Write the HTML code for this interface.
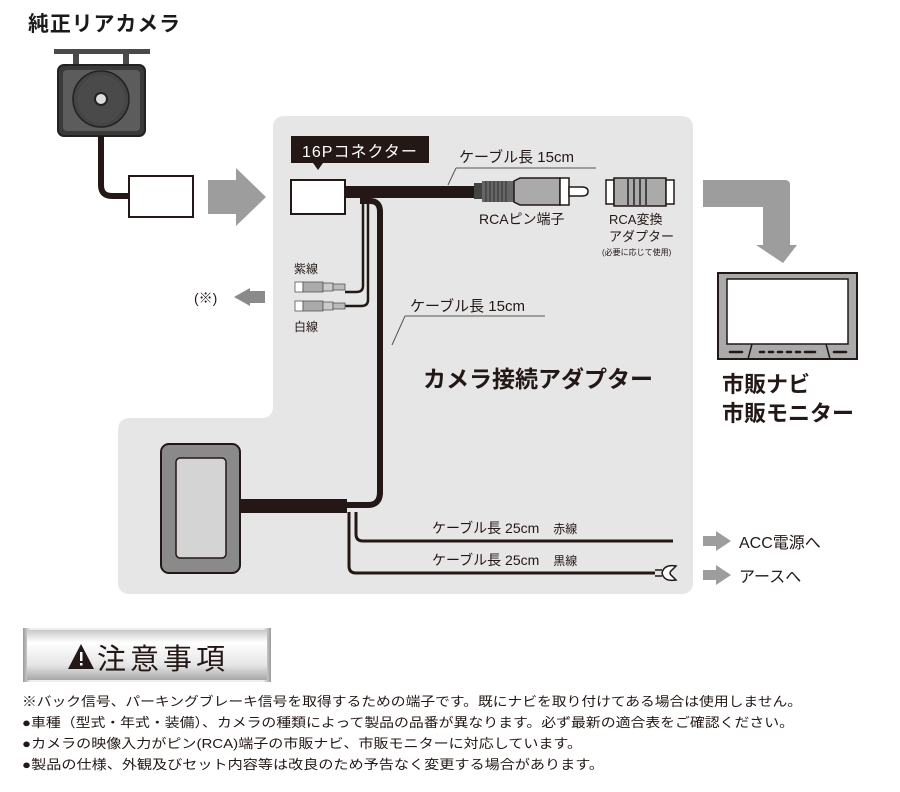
<!DOCTYPE html>
<html><head><meta charset="utf-8"><style>
html,body{margin:0;padding:0;background:#fff;}
svg{display:block;font-family:"Liberation Sans","Noto Sans CJK JP",sans-serif;}
</style></head><body>
<svg width="900" height="792" viewBox="0 0 900 792" xmlns="http://www.w3.org/2000/svg">
<defs>
<linearGradient id="sg" x1="0" y1="0" x2="0" y2="1">
<stop offset="0" stop-color="#c8c8c8"/><stop offset="0.25" stop-color="#ffffff"/><stop offset="0.7" stop-color="#e6e6e6"/><stop offset="1" stop-color="#a8a8a8"/>
</linearGradient>
<linearGradient id="sx" x1="0" y1="0" x2="1" y2="0">
<stop offset="0" stop-color="#999"/><stop offset="0.03" stop-color="#eee"/><stop offset="0.97" stop-color="#eee"/><stop offset="1" stop-color="#999"/>
</linearGradient>
</defs>
<path d="M285,116 H681 Q693,116 693,128 V582 Q693,594 681,594 H130 Q118,594 118,582 V430 Q118,418 130,418 H261 Q273,418 273,406 V128 Q273,116 285,116 Z" fill="#e6e6e6"/>

<text x="28" y="31" font-size="21" font-weight="bold" fill="#1a1a1a" textLength="152">純正リアカメラ</text>
<rect x="54" y="49" width="96" height="5" fill="#4a4a4a"/>
<rect x="73" y="54" width="6" height="12" fill="#4a4a4a"/>
<rect x="123" y="54" width="6" height="12" fill="#4a4a4a"/>
<rect x="58" y="65" width="87" height="71" rx="6" fill="#3a3a3a" stroke="#222" stroke-width="2"/>
<rect x="63" y="70" width="77" height="61" rx="4" fill="#5c5c5c"/>
<circle cx="101" cy="99" r="28" fill="#444" stroke="#222" stroke-width="1.5"/>
<circle cx="101" cy="99" r="24" fill="#4a4a4a"/>
<circle cx="101" cy="99" r="6" fill="#ddd" stroke="#222" stroke-width="2"/>
<path d="M101,136 V185 Q101,196 112,196 H130" fill="none" stroke="#231815" stroke-width="6"/>
<rect x="129" y="176" width="64" height="41" fill="#fff" stroke="#231815" stroke-width="2"/>
<polygon points="208,180 236,180 236,168 266,197 236,226 236,214 208,214" fill="#9d9d9d"/>

<rect x="291" y="136" width="138" height="27" fill="#231815"/>
<text x="302" y="157" font-size="16" fill="#fff" letter-spacing="1">16Pコネクター</text>
<polygon points="313,163 323,163 318,170" fill="#231815"/>
<path d="M363,200 V286 Q363,292 356,292 H345" fill="none" stroke="#231815" stroke-width="2.5"/>
<path d="M368,200 V300 Q368,306 361,306 H345" fill="none" stroke="#231815" stroke-width="2.5"/>
<g stroke="#555" stroke-width="0.8">
<rect x="295" y="282" width="8" height="10" fill="#fff"/><rect x="303" y="282" width="20" height="10" fill="#aaa"/><rect x="323" y="283" width="10" height="8" fill="#ccc"/><rect x="333" y="284" width="12" height="6" fill="#bbb"/>
<rect x="295" y="301" width="8" height="10" fill="#fff"/><rect x="303" y="301" width="20" height="10" fill="#aaa"/><rect x="323" y="302" width="10" height="8" fill="#ccc"/><rect x="333" y="303" width="12" height="6" fill="#bbb"/>
</g>
<text x="294" y="273" font-size="12" fill="#231815">紫線</text>
<text x="294" y="331" font-size="12" fill="#231815">白線</text>
<polygon points="265,291 250,291 250,288 234,297 250,306 250,303 265,303" fill="#8a8a8a"/>
<text x="194" y="303" font-size="14" fill="#231815">(※)</text>

<rect x="345" y="186" width="135" height="12" fill="#231815"/>
<path d="M360,201 H370 Q380,201 380,212 V492 Q380,505 368,505 H345" fill="none" stroke="#231815" stroke-width="6"/>
<rect x="291" y="180" width="54" height="34" fill="#fff" stroke="#231815" stroke-width="2"/>

<rect x="474" y="183" width="8" height="16" fill="#444"/>
<rect x="482" y="181" width="32" height="21" fill="#666"/>
<g stroke="#333" stroke-width="1"><line x1="486" y1="181" x2="486" y2="202"/><line x1="490" y1="181" x2="490" y2="202"/><line x1="494" y1="181" x2="494" y2="202"/><line x1="498" y1="181" x2="498" y2="202"/><line x1="502" y1="181" x2="502" y2="202"/><line x1="506" y1="181" x2="506" y2="202"/></g>
<path d="M514,181 L520,178 H560 V205 H520 L514,202 Z" fill="#aaa" stroke="#231815" stroke-width="1.5"/>
<rect x="560" y="178" width="9" height="27" fill="#fff" stroke="#231815" stroke-width="1.5"/>
<path d="M569,187 H582 Q588,187 588,191.5 Q588,196 582,196 H569 Z" fill="#fff" stroke="#231815" stroke-width="1.5"/>
<rect x="606" y="180" width="8" height="24" fill="#fff" stroke="#231815" stroke-width="1.5"/>
<rect x="614" y="178" width="52" height="28" fill="#aaa" stroke="#231815" stroke-width="1.5"/>
<g stroke="#444" stroke-width="2"><line x1="628" y1="178" x2="628" y2="206"/><line x1="634" y1="178" x2="634" y2="206"/><line x1="640" y1="178" x2="640" y2="206"/><line x1="646" y1="178" x2="646" y2="206"/></g>
<rect x="666" y="180" width="8" height="24" fill="#fff" stroke="#231815" stroke-width="1.5"/>

<text x="459" y="162" font-size="15" fill="#231815">ケーブル長 15cm</text>
<line x1="456" y1="168" x2="596" y2="168" stroke="#555" stroke-width="1"/>
<line x1="456" y1="168" x2="448" y2="185" stroke="#555" stroke-width="1"/>
<text x="479" y="224" font-size="14" fill="#231815">RCAピン端子</text>
<text x="609" y="224" font-size="13" fill="#231815">RCA変換</text>
<text x="609" y="241" font-size="13" fill="#231815">アダプター</text>
<text x="602" y="255" font-size="8" fill="#231815">(必要に応じて使用)</text>

<text x="410" y="311" font-size="15" fill="#231815">ケーブル長 15cm</text>
<line x1="405" y1="316" x2="545" y2="316" stroke="#555" stroke-width="1"/>
<line x1="405" y1="316" x2="392" y2="345" stroke="#555" stroke-width="1"/>
<text x="423" y="387" font-size="23" font-weight="bold" fill="#231815">カメラ接続アダプター</text>

<path d="M703,180 H785 Q790,180 790,185 V245 H797 L783,263 L756,245 H763 V207 H703 Z" fill="#9d9d9d"/>
<rect x="718" y="273" width="139" height="86" fill="#aaa" stroke="#231815" stroke-width="2"/>
<rect x="727" y="279" width="121" height="65" fill="#fff" stroke="#231815" stroke-width="1.5"/>
<path d="M748,359 L752,344 M826,344 L830,359" stroke="#231815" stroke-width="1.5"/>
<g stroke="#231815" stroke-width="2.5" stroke-linecap="round"><line x1="730" y1="352" x2="742" y2="352"/><line x1="760" y1="352" x2="764" y2="352"/><line x1="769" y1="352" x2="773" y2="352"/><line x1="778" y1="352" x2="782" y2="352"/><line x1="787" y1="352" x2="791" y2="352"/><line x1="796" y1="352" x2="800" y2="352"/><line x1="805" y1="352" x2="815" y2="352"/><line x1="834" y1="352" x2="846" y2="352"/></g>
<text x="722" y="392" font-size="22" font-weight="bold" fill="#231815">市販ナビ</text>
<text x="722" y="421" font-size="22" font-weight="bold" fill="#231815">市販モニター</text>

<rect x="161" y="444" width="79" height="129" rx="8" fill="#8a8a8a" stroke="#231815" stroke-width="2"/>
<rect x="176" y="458" width="50" height="100" rx="4" fill="#d4d4d4" stroke="#231815" stroke-width="1.5"/>
<rect x="240" y="499" width="107" height="14" fill="#231815"/>
<path d="M356,512 V534 Q356,541 363,541 H673" fill="none" stroke="#231815" stroke-width="3"/>
<path d="M349,512 V566 Q349,573 356,573 H655" fill="none" stroke="#231815" stroke-width="3"/>
<path d="M655,570 H662 M655,576 H662 M676,566 Q664,564 662,573 Q664,582 676,580 L672,576 Q668,573 672,570 Z" fill="#fff" stroke="#231815" stroke-width="1.5"/>
<text x="432" y="533" font-size="14" fill="#231815">ケーブル長 25cm<tspan dx="14" font-size="12">赤線</tspan></text>
<text x="432" y="565" font-size="14" fill="#231815">ケーブル長 25cm<tspan dx="14" font-size="12">黒線</tspan></text>
<polygon points="703,536 716,536 716,531 731,541 716,551 716,546 703,546" fill="#9d9d9d"/>
<polygon points="703,570 716,570 716,565 731,575 716,585 716,580 703,580" fill="#9d9d9d"/>
<text x="739" y="548" font-size="16" fill="#231815">ACC電源へ</text>
<text x="739" y="582" font-size="16" fill="#231815">アースへ</text>

<rect x="23" y="628" width="248" height="54" fill="url(#sx)"/>
<rect x="27" y="630" width="240" height="50" fill="url(#sg)"/>
<polygon points="68,669 81,644 94,669" fill="#231815"/>
<rect x="80" y="652" width="2.5" height="9" fill="#fff"/><rect x="80" y="663" width="2.5" height="2.5" fill="#fff"/>
<text x="97" y="669" font-size="29" fill="#231815" textLength="128">注意事項</text>

<g font-size="13" fill="#231815">
<text x="22" y="706" textLength="780" lengthAdjust="spacingAndGlyphs">※バック信号、パーキングブレーキ信号を取得するための端子です。既にナビを取り付けてある場合は使用しません。</text>
<text x="22" y="727" textLength="772" lengthAdjust="spacingAndGlyphs">●車種（型式・年式・装備）、カメラの種類によって製品の品番が異なります。必ず最新の適合表をご確認ください。</text>
<text x="22" y="748" textLength="560" lengthAdjust="spacingAndGlyphs">●カメラの映像入力がピン(RCA)端子の市販ナビ、市販モニターに対応しています。</text>
<text x="22" y="769" textLength="582" lengthAdjust="spacingAndGlyphs">●製品の仕様、外観及びセット内容等は改良のため予告なく変更する場合があります。</text>
</g>
</svg>
</body></html>
